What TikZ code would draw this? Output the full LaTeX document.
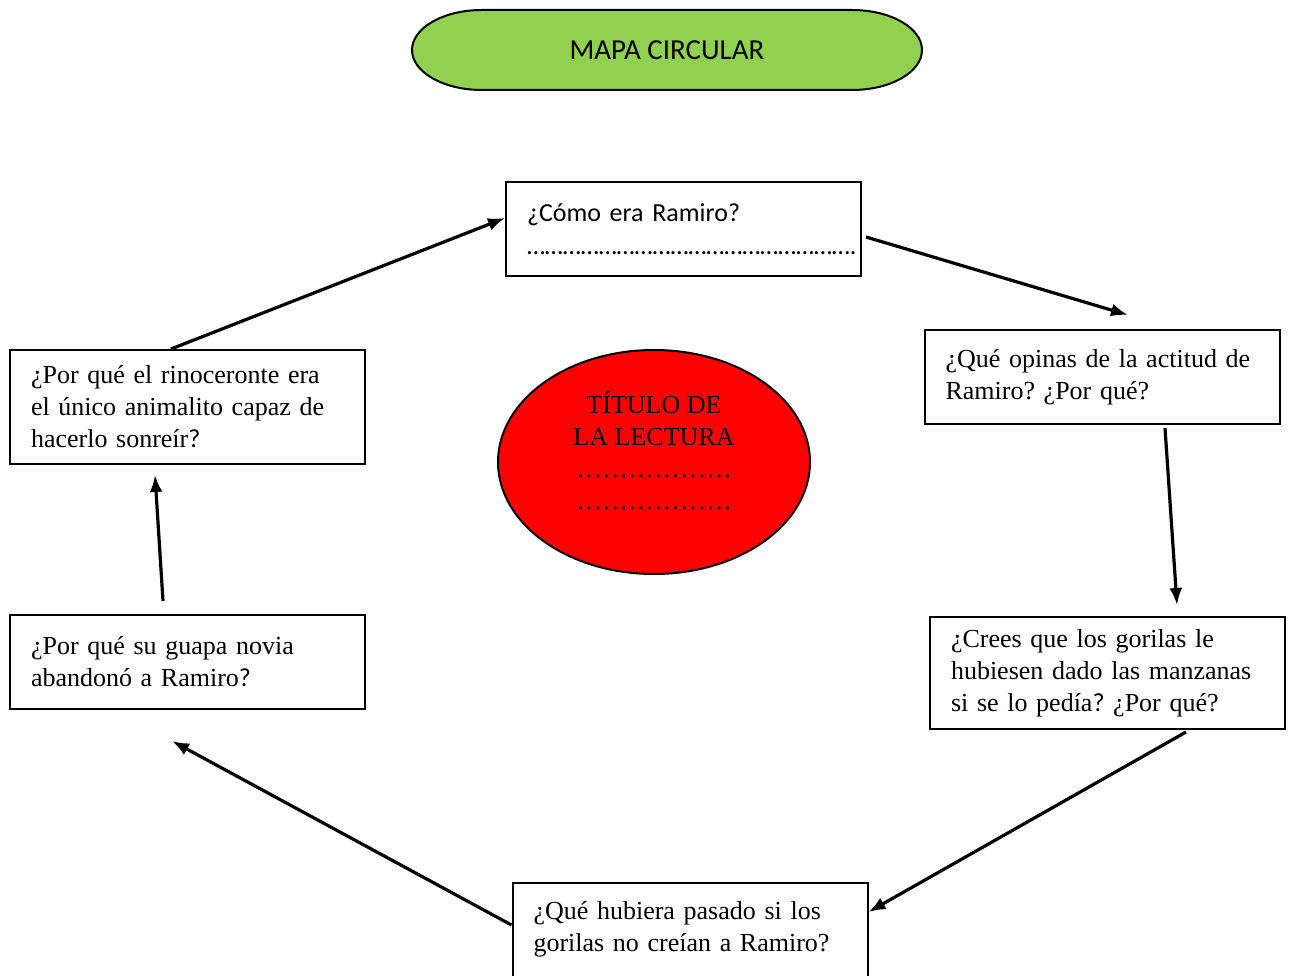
\documentclass[tikz,border=0pt]{standalone}
\usepackage{fontspec}
\setmainfont{Liberation Serif}
\newfontfamily\calibri{Carlito}
\usetikzlibrary{shapes.geometric,arrows.meta}
\definecolor{verdeMapa}{RGB}{146,208,80}
\definecolor{rojoTitulo}{RGB}{255,0,0}
\frenchspacing

\begin{document}
\begin{tikzpicture}[x=1pt,y=-1pt,
  caja/.style={draw, line width=2pt, minimum width=355pt, minimum height=94pt,
    text width=313pt, align=left, inner sep=0pt, font=\fontsize{26}{32}\selectfont},
  flecha/.style={line width=3.2pt, -{Latex[length=17pt,width=13pt]}}]
\useasboundingbox (0,0) rectangle (1293,976);
% titulo
\filldraw[line width=2pt, fill=verdeMapa] (482,10) -- (852,10)
  arc[start angle=-90, end angle=90, x radius=70, y radius=40] -- (482,90)
  arc[start angle=90, end angle=270, x radius=70, y radius=40] -- cycle;
\node[minimum width=510pt, minimum height=80pt,
  font=\calibri\fontsize{29}{32}\selectfont] (titulo) at (667,50) {MAPA CIRCULAR};
% centro
\node[ellipse, draw, line width=2pt, fill=rojoTitulo, minimum width=312pt, minimum height=224pt,
  align=center, font=\fontsize{26}{32}\selectfont] (lectura) at (654,462)
  {TÍTULO DE\\LA LECTURA\\………………\\………………\\[-8pt]};
% preguntas
\node[caja, font=\calibri\fontsize{26}{33}\selectfont] (como) at (683.5,229)
  {¿Cómo era Ramiro?\\……………………………………………….};
\node[caja] (opinas) at (1102,377) {¿Qué opinas de la actitud de\\Ramiro? ¿Por qué?};
\node[caja, minimum height=112pt] (crees) at (1107.5,673)
  {¿Crees que los gorilas le\\hubiesen dado las manzanas\\si se lo pedía{\calibri?} ¿Por qué?};
\node[caja, minimum height=118pt] (paso) at (690,942)
  {¿Qué hubiera pasado si los\\gorilas no creían a Ramiro?\\\mbox{}};
\node[caja] (novia) at (187.5,662) {¿Por qué su guapa novia\\abandonó a Ramiro{\calibri?}};
\node[caja, minimum height=114pt] (rino) at (187.5,407)
  {¿Por qué el rinoceronte era\\el único animalito capaz de\\hacerlo sonreír{\calibri?}};
% flechas
\draw[flecha] ([xshift=-16.5pt]rino.north) -- ([yshift=11pt]como.west);
\draw[flecha] ([xshift=4pt,yshift=-8pt]como.east) -- ([xshift=26pt,yshift=14pt]opinas.north);
\draw[flecha] ([xshift=63pt,yshift=-3pt]opinas.south) -- ([xshift=69.5pt,yshift=11pt]crees.north);
\draw[flecha] ([xshift=78.5pt,yshift=-2pt]crees.south) -- ([yshift=30pt]paso.east);
\draw[flecha] ([yshift=17pt]paso.west) -- ([xshift=-15.5pt,yshift=-31pt]novia.south);
\draw[flecha] ([xshift=-24.5pt,yshift=13pt]novia.north) -- ([xshift=-32.5pt,yshift=-10pt]rino.south);
\end{tikzpicture}
\end{document}
